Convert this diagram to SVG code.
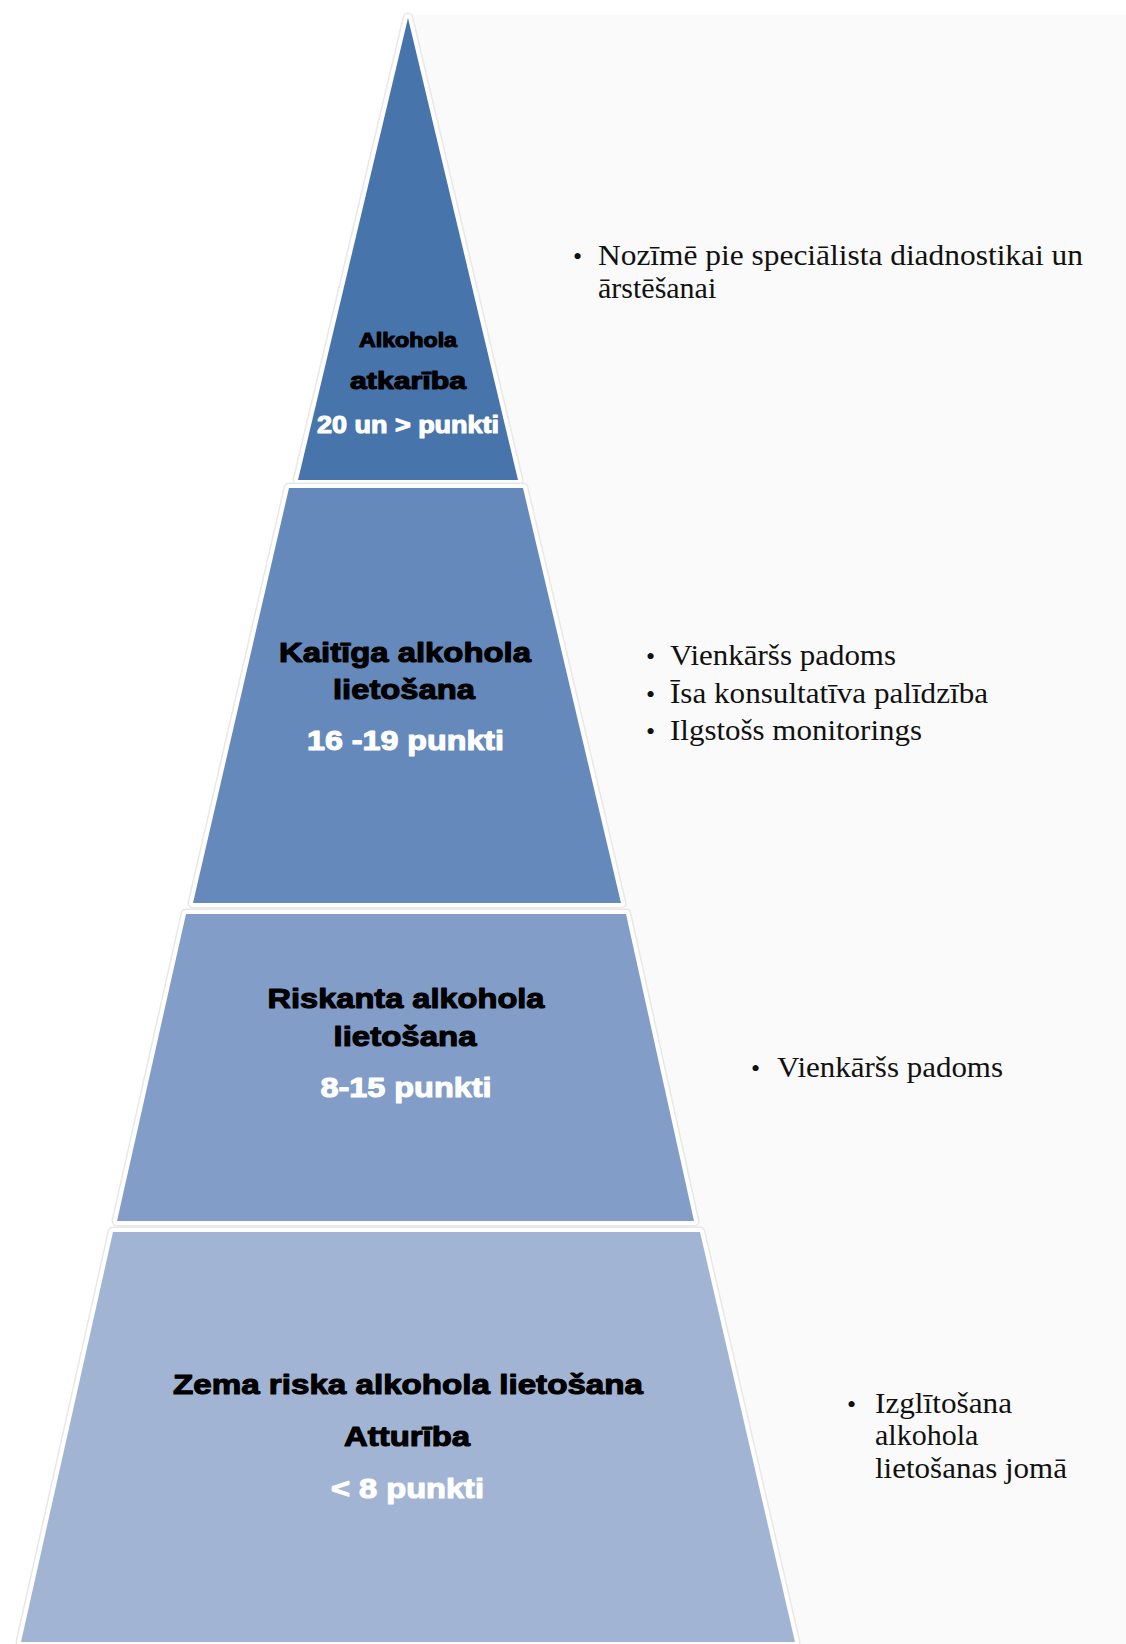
<svg xmlns="http://www.w3.org/2000/svg" width="1126" height="1644" viewBox="0 0 1126 1644">
<style>
.edge{fill:none;stroke:#e8e8e8;stroke-width:11;stroke-linejoin:round}
.rim{fill:none;stroke:#ffffff;stroke-width:8;stroke-linejoin:round}
.lbl{font-family:"Liberation Sans",Arial,sans-serif;font-weight:bold;text-anchor:middle;stroke-width:1.1;stroke-linejoin:round}
.blk{fill:#000;stroke:#000}
.wht{fill:#fff;stroke:#fff}
.note{font-family:"Liberation Serif","Times New Roman",serif;font-size:30px;fill:#111}
.bul{font-family:"Liberation Serif","Times New Roman",serif;font-size:26px;fill:#111}
</style>
<rect width="1126" height="1644" fill="#ffffff"/>
<rect x="405" y="15" width="721" height="1629" fill="#fafafa"/>

<g id="layer-1">
<path class="edge" d="M408,18 L518,480 L298,480 Z"/>
<path class="rim" d="M408,18 L518,480 L298,480 Z"/>
<path d="M408,18 L518,480 L298,480 Z" fill="#4774ab"/>
<text class="lbl blk" x="408" y="347" font-size="20" textLength="98" lengthAdjust="spacingAndGlyphs">Alkohola</text>
<text class="lbl blk" x="408" y="389" font-size="23" textLength="116" lengthAdjust="spacingAndGlyphs">atkarība</text>
<text class="lbl wht" x="408" y="433" font-size="24" textLength="182" lengthAdjust="spacingAndGlyphs">20 un &gt; punkti</text>
</g>

<g id="layer-2">
<path class="edge" d="M289,488 L523,488 L621,903 L193,903 Z"/>
<path class="rim" d="M289,488 L523,488 L621,903 L193,903 Z"/>
<path d="M289,488 L523,488 L621,903 L193,903 Z" fill="#6589bb"/>
<text class="lbl blk" x="405" y="662" font-size="28" textLength="252" lengthAdjust="spacingAndGlyphs">Kaitīga alkohola</text>
<text class="lbl blk" x="404" y="699" font-size="28" textLength="142" lengthAdjust="spacingAndGlyphs">lietošana</text>
<text class="lbl wht" x="405.5" y="750" font-size="28" textLength="197" lengthAdjust="spacingAndGlyphs">16 -19 punkti</text>
</g>

<g id="layer-3">
<path class="edge" d="M186,914 L626,914 L694,1221 L117,1221 Z"/>
<path class="rim" d="M186,914 L626,914 L694,1221 L117,1221 Z"/>
<path d="M186,914 L626,914 L694,1221 L117,1221 Z" fill="#819dc8"/>
<text class="lbl blk" x="406" y="1008" font-size="28" textLength="277" lengthAdjust="spacingAndGlyphs">Riskanta alkohola</text>
<text class="lbl blk" x="405" y="1046" font-size="28" textLength="143" lengthAdjust="spacingAndGlyphs">lietošana</text>
<text class="lbl wht" x="406" y="1097" font-size="28" textLength="171" lengthAdjust="spacingAndGlyphs">8-15 punkti</text>
</g>

<g id="layer-4">
<path class="edge" d="M113,1232 L700,1232 L795,1642 L21,1642 Z"/>
<path class="rim" d="M113,1232 L700,1232 L795,1642 L21,1642 Z"/>
<path d="M113,1232 L700,1232 L795,1642 L21,1642 Z" fill="#a2b4d4"/>
<text class="lbl blk" x="408" y="1394" font-size="28" textLength="470" lengthAdjust="spacingAndGlyphs">Zema riska alkohola lietošana</text>
<text class="lbl blk" x="407" y="1446" font-size="28" textLength="126" lengthAdjust="spacingAndGlyphs">Atturība</text>
<text class="lbl wht" x="407.5" y="1498" font-size="28" textLength="153" lengthAdjust="spacingAndGlyphs">&lt; 8 punkti</text>
</g>

<g id="note-1">
<text class="bul" x="573" y="265">•</text>
<text class="note" x="598" y="265" textLength="485" lengthAdjust="spacingAndGlyphs">Nozīmē pie speciālista diadnostikai un</text>
<text class="note" x="598" y="298">ārstēšanai</text>
</g>

<g id="note-2">
<text class="bul" x="646" y="665">•</text>
<text class="note" x="670" y="665" textLength="226" lengthAdjust="spacingAndGlyphs">Vienkāršs padoms</text>
<text class="bul" x="646" y="703">•</text>
<text class="note" x="670" y="703" textLength="318" lengthAdjust="spacingAndGlyphs">Īsa konsultatīva palīdzība</text>
<text class="bul" x="646" y="740">•</text>
<text class="note" x="670" y="740" textLength="252" lengthAdjust="spacingAndGlyphs">Ilgstošs monitorings</text>
</g>

<g id="note-3">
<text class="bul" x="751" y="1077">•</text>
<text class="note" x="777" y="1077" textLength="226" lengthAdjust="spacingAndGlyphs">Vienkāršs padoms</text>
</g>

<g id="note-4">
<text class="bul" x="847" y="1413">•</text>
<text class="note" x="875" y="1413" textLength="137" lengthAdjust="spacingAndGlyphs">Izglītošana</text>
<text class="note" x="875" y="1445">alkohola</text>
<text class="note" x="875" y="1478" textLength="192" lengthAdjust="spacingAndGlyphs">lietošanas jomā</text>
</g>
</svg>
